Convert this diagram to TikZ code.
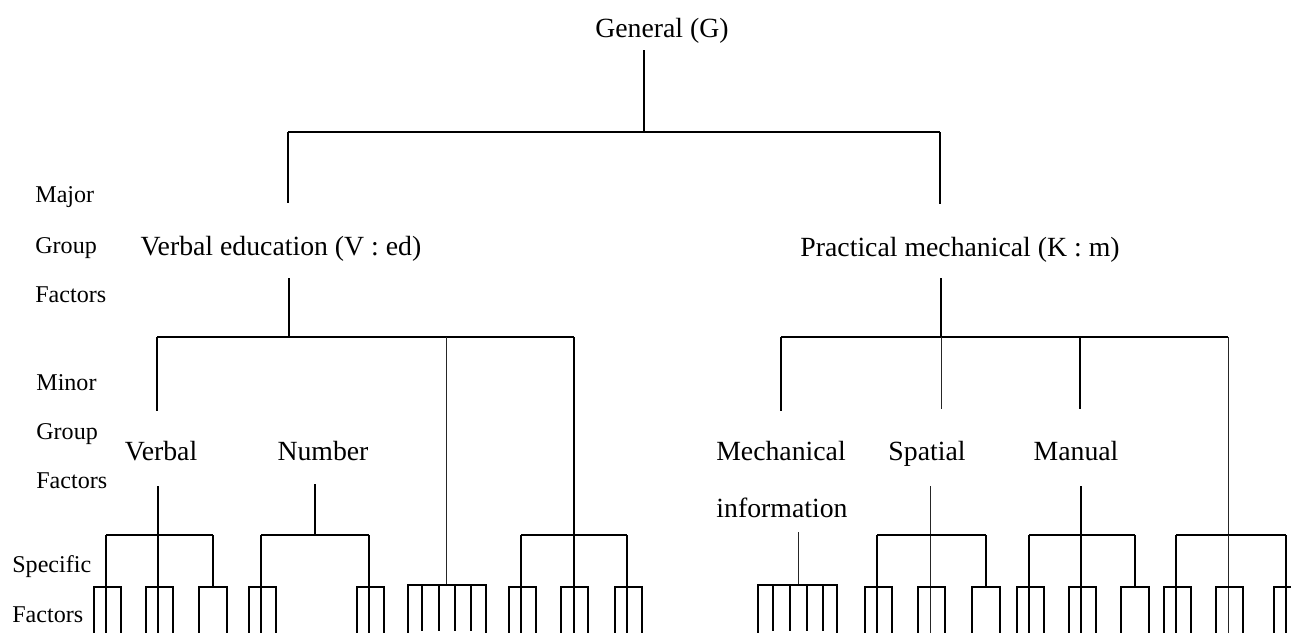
\documentclass[tikz,border=0pt]{standalone}
\usepackage{fontspec}
\setmainfont{Liberation Serif}
\newcommand{\factbox}[1]{\draw[ln] (#1-12,633) -- (#1-12,587) -- (#1+15,587) -- (#1+15,633);}
\newcommand{\factcap}[1]{\draw[ln] (#1-14,633) -- (#1-14,587) -- (#1+14,587) -- (#1+14,633);}
\begin{document}
\begin{tikzpicture}[x=0.02cm,y=-0.02cm,
  big/.style={font=\fontsize{15.8}{18}\selectfont, inner sep=0pt, anchor=base},
  side/.style={font=\fontsize{13.7}{16}\selectfont, inner sep=0pt, anchor=base west},
  ln/.style={line width=0.9pt, black},
  thn/.style={line width=0.55pt, black!85}]
\useasboundingbox (0,0) rectangle (1291,632);

% texts
\node[big] (G) at (662,37) {General (G)};
\node[big] (VE) at (281,255) {Verbal education (V : ed)};
\node[big] (PM) at (960,256) {Practical mechanical (K : m)};
\node[big] (V) at (161,460) {Verbal};
\node[big] (N) at (323,460) {Number};
\node[big] (M) at (781,460) {Mechanical};
\node[big] (I) at (782,517) {information};
\node[big] (S) at (927,460) {Spatial};
\node[big] (Ma) at (1076,460) {Manual};

\node[side] (maj) at (35,202) {Major};
\node[side] (grp1) at (35,253) {Group};
\node[side] (fac1) at (35,302) {Factors};
\node[side] (min) at (36,390) {Minor};
\node[side] (grp2) at (36,439) {Group};
\node[side] (fac2) at (36,488) {Factors};
\node[side] (spe) at (12,572) {Specific};
\node[side] (fac3) at (12,622) {Factors};

% level 1: General
\coordinate (g0) at (644,50);
\coordinate (g1) at (644,132);
\coordinate (gl) at (288,132);
\coordinate (gr) at (940,132);
\draw[ln] (g0) -- (g1);
\draw[ln] (gl) -- (gr);
\draw[ln] (gl) -- (288,203);
\draw[ln] (gr) -- (940,204);

% level 2: Verbal education
\coordinate (ve0) at (289,278);
\coordinate (ve1) at (289,337);
\coordinate (vel) at (157,337);
\coordinate (ver) at (574,337);
\draw[ln] (ve0) -- (ve1);
\draw[ln] (vel) -- (ver);
\draw[ln] (vel) -- (157,411);
\draw[thn] (446,337) -- (446,585);
\draw[ln] (ver) -- (574,535);

% level 2: Practical mechanical
\coordinate (pm0) at (941,278);
\coordinate (pm1) at (941,337);
\coordinate (pml) at (781,337);
\coordinate (pmr) at (1228,337);
\draw[ln] (pm0) -- (pm1);
\draw[ln] (pml) -- (pmr);
\draw[ln] (pml) -- (781,411);
\draw[thn] (pm1) -- (941,409);
\draw[ln] (1080,337) -- (1080,409);
\draw[thn] (pmr) -- (1228,535);

% level 3 bars
\draw[ln] (158,486) -- (158,633);
\draw[ln] (106,535) -- (213,535);
\draw[ln] (106,535) -- (106,633);
\draw[ln] (213,535) -- (213,587);

\draw[ln] (315,484) -- (315,535);
\draw[ln] (261,535) -- (369,535);
\draw[ln] (261,535) -- (261,633);
\draw[ln] (369,535) -- (369,633);

\draw[ln] (521,535) -- (627,535);
\draw[ln] (521,535) -- (521,633);
\draw[ln] (574,535) -- (574,633);
\draw[ln] (627,535) -- (627,633);

\draw[thn] (930,486) -- (930,633);
\draw[ln] (877,535) -- (986,535);
\draw[ln] (877,535) -- (877,633);
\draw[ln] (986,535) -- (986,587);

\draw[ln] (1081,486) -- (1081,633);
\draw[ln] (1029,535) -- (1135,535);
\draw[ln] (1029,535) -- (1029,633);
\draw[ln] (1135,535) -- (1135,587);

\draw[ln] (1176,535) -- (1286,535);
\draw[ln] (1176,535) -- (1176,633);
\draw[thn] (1228,535) -- (1228,633);
\draw[ln] (1286,535) -- (1286,633);

% combs
\draw[ln] (408,633) -- (408,585) -- (486,585) -- (486,633);
\foreach \t in {422,439,455,471} \draw[ln] (\t,585) -- (\t,631);

\draw[thn] (798,532) -- (798,585);
\draw[ln] (758,633) -- (758,585) -- (837,585) -- (837,633);
\foreach \t in {773,790,807,823} \draw[ln] (\t,585) -- (\t,631);

% specific factor boxes
\factbox{106}\factbox{158}\factcap{213}
\factbox{261}\factbox{369}
\factbox{521}\factbox{573}\factbox{627}
\factbox{877}\factbox{930}\factcap{986}
\factbox{1029}\factbox{1081}\factcap{1135}
\factbox{1176}\factbox{1228}\factbox{1286}
\end{tikzpicture}
\end{document}
